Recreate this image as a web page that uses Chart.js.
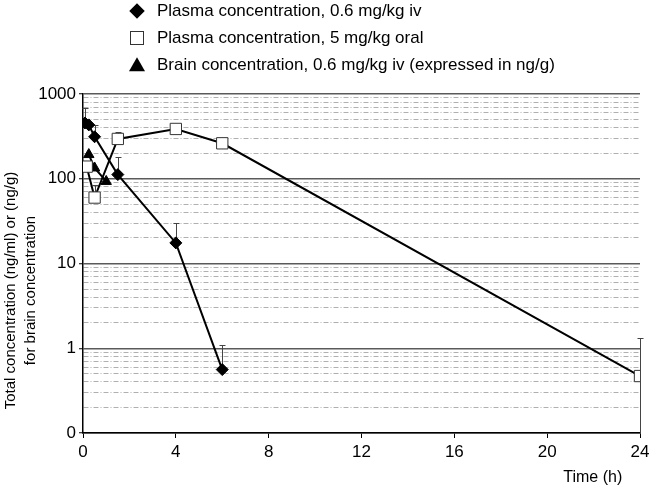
<!DOCTYPE html>
<html>
<head>
<meta charset="utf-8">
<title>Plasma and brain concentration</title>
<script src="https://cdn.jsdelivr.net/npm/chart.js@4.4.1/dist/chart.umd.min.js"></script>
<style>
  html, body { margin: 0; padding: 0; background: #fff; }
  #wrap { position: relative; width: 649px; height: 487px; }
  #legend {
    position: absolute; left: 128px; top: -3px;
    font: 17px "Liberation Sans", Arial, sans-serif; color: #000;
  }
  .row { position: relative; height: 27px; line-height: 27px; padding-left: 29px; white-space: nowrap; }
  .mk { position: absolute; left: 9px; top: 50%; }
  .diamond { width: 11px; height: 11px; background: #000; transform: translate(-50%, -50%) rotate(45deg); }
  .square { width: 12px; height: 12px; border: 1px solid #333; background: #fff; transform: translate(-50%, -50%); }
  .triangle { width: 0; height: 0; border-left: 8px solid transparent; border-right: 8px solid transparent;
              border-bottom: 14px solid #000; transform: translate(-50%, -55%); }
</style>
</head>
<body>
<div id="wrap">
  <canvas id="chart" width="649" height="487"></canvas>
  <div id="legend">
    <div class="row"><span class="mk diamond"></span>Plasma concentration, 0.6 mg/kg iv</div>
    <div class="row"><span class="mk square"></span>Plasma concentration, 5 mg/kg oral</div>
    <div class="row"><span class="mk triangle"></span>Brain concentration, 0.6 mg/kg iv (expressed in ng/g)</div>
  </div>
</div>
<script>
// plasma, 0.6 mg/kg iv
const ivTime = [0.083, 0.25, 0.5, 1.5, 4, 6];
const ivConc = [455, 432, 313, 112, 17.5, 0.56];
const ivErrHigh = [680, null, 427, 179, 30, 1.09];

// plasma, 5 mg/kg oral
const oralTime = [0.16, 0.5, 1.5, 4, 6, 24];
const oralConc = [139, 60, 295, 387, 262, 0.47];
const oralErrHigh = [null, 84, 360, 415, 286, 1.32];
const oralErrLow = [null, null, null, null, null, 0.1];

// brain, 0.6 mg/kg iv
const brainTime = [0.25, 0.5, 1];
const brainConc = [193, 134, 93];

const xTicks = [0, 4, 8, 12, 16, 20, 24];
const yTicks = [0.1, 1, 10, 100, 1000];
const yTickLabels = ['0', '1', '10', '100', '1000'];

const yTitle = ['Total concentration (ng/ml) or (ng/g)', 'for brain concentration'];
const xTitle = 'Time (h)';

const FONT = '"Liberation Sans", Arial, sans-serif';

function pts(xs, ys) {
  return xs.map((t, i) => ({ x: t, y: ys[i] }));
}

function isMajor(v) {
  const l = Math.log10(v);
  return Math.abs(l - Math.round(l)) < 1e-9;
}

// decades plus 2..9 minor lines in between
const gridValues = [];
yTicks.forEach((d, i) => {
  if (i === yTicks.length - 1) { gridValues.push(d); return; }
  for (let m = 1; m <= 9; m++) gridValues.push(+(d * m).toPrecision(6));
});

const errors = [
  { high: ivErrHigh },
  { high: oralErrHigh, low: oralErrLow },
  null
];

const errorBars = {
  id: 'errorBars',
  beforeDatasetsDraw(chart) {
    const { ctx, scales: { x, y } } = chart;
    ctx.save();
    ctx.strokeStyle = '#444';
    ctx.lineWidth = 1;
    chart.data.datasets.forEach((ds, di) => {
      const e = errors[di];
      if (!e) return;
      ds.data.forEach((p, i) => {
        const hi = e.high[i];
        if (hi == null) return;
        const lo = e.low && e.low[i] != null ? e.low[i] : p.y;
        const px = Math.round(x.getPixelForValue(p.x)) + 0.5;
        const top = Math.round(y.getPixelForValue(hi)) + 0.5;
        const bot = y.getPixelForValue(lo);
        ctx.beginPath();
        ctx.moveTo(px, bot);
        ctx.lineTo(px, top);
        ctx.moveTo(px - 3, top);
        ctx.lineTo(px + 3, top);
        ctx.stroke();
      });
    });
    ctx.restore();
  }
};

// y title drawn by hand so it can sit a bit below the middle, as in the original
const yTitlePlugin = {
  id: 'yTitle',
  afterDraw(chart) {
    const { ctx, chartArea } = chart;
    const cy = (chartArea.top + chartArea.bottom) / 2 + 27;
    ctx.save();
    ctx.font = '15px ' + FONT;
    ctx.fillStyle = '#000';
    ctx.textAlign = 'center';
    ctx.textBaseline = 'middle';
    ctx.translate(11, cy);
    ctx.rotate(-Math.PI / 2);
    ctx.fillText(yTitle[0], 0, 0);
    ctx.fillText(yTitle[1], 0, 20);
    ctx.restore();
  }
};

new Chart(document.getElementById('chart'), {
  type: 'line',
  data: {
    datasets: [
      {
        label: 'Plasma concentration, 0.6 mg/kg iv',
        data: pts(ivTime, ivConc),
        borderColor: '#000',
        borderWidth: 2,
        pointStyle: 'rectRot',
        pointRadius: 6,
        pointBackgroundColor: '#000',
        pointBorderColor: '#000',
        pointBorderWidth: 1
      },
      {
        label: 'Plasma concentration, 5 mg/kg oral',
        data: pts(oralTime, oralConc),
        borderColor: '#000',
        borderWidth: 2,
        pointStyle: 'rect',
        pointRadius: 8,
        pointBackgroundColor: '#fff',
        pointBorderColor: '#333',
        pointBorderWidth: 1
      },
      {
        label: 'Brain concentration, 0.6 mg/kg iv (expressed in ng/g)',
        data: pts(brainTime, brainConc),
        borderColor: '#000',
        borderWidth: 2,
        pointStyle: 'triangle',
        pointRadius: 6,
        pointBackgroundColor: '#000',
        pointBorderColor: '#000',
        pointBorderWidth: 1
      }
    ]
  },
  options: {
    responsive: false,
    animation: false,
    layout: { padding: { top: 94, right: 0, left: 0, bottom: 0 } },
    plugins: {
      legend: { display: false },
      tooltip: { enabled: false }
    },
    scales: {
      x: {
        type: 'linear',
        min: 0,
        max: 24,
        afterBuildTicks(scale) { scale.ticks = xTicks.map(v => ({ value: v })); },
        afterFit(scale) {
          scale.height = 54;
          scale.paddingRight = 8;
        },
        ticks: { color: '#000', font: { family: FONT, size: 17 }, padding: 4, maxRotation: 0 },
        grid: { drawOnChartArea: false, drawTicks: true, tickLength: 5, tickColor: '#000', tickWidth: 1 },
        border: { color: '#000', width: 1.5 },
        title: {
          display: true,
          text: xTitle + '\u00a0\u00a0\u00a0\u00a0',
          align: 'end',
          color: '#000',
          font: { family: FONT, size: 16 },
          padding: { top: 1, bottom: 0 }
        }
      },
      y: {
        type: 'logarithmic',
        min: 0.1,
        max: 1000,
        afterBuildTicks(scale) {
          scale.ticks = gridValues.map(v => ({ value: v, major: isMajor(v) }));
        },
        afterFit(scale) { scale.width = 83; },
        ticks: {
          autoSkip: false,
          color: '#000',
          font: { family: FONT, size: 17 },
          padding: 3,
          callback(v) {
            const i = yTicks.findIndex(t => Math.abs(t - v) < 1e-9);
            return i >= 0 ? yTickLabels[i] : '';
          }
        },
        grid: {
          color: c => (c.tick && isMajor(c.tick.value)) ? '#5a5a5a' : '#b0b0b0',
          lineWidth: c => (c.tick && isMajor(c.tick.value)) ? 1.5 : 1,
          tickColor: c => (c.tick && isMajor(c.tick.value)) ? '#000' : 'rgba(0,0,0,0)',
          tickLength: 4,
          tickWidth: 1
        },
        border: {
          color: '#000',
          width: 1.5,
          dash: c => (c.tick && !isMajor(c.tick.value)) ? [5, 2, 1, 2] : []
        }
      }
    }
  },
  plugins: [errorBars, yTitlePlugin]
});
</script>
</body>
</html>
